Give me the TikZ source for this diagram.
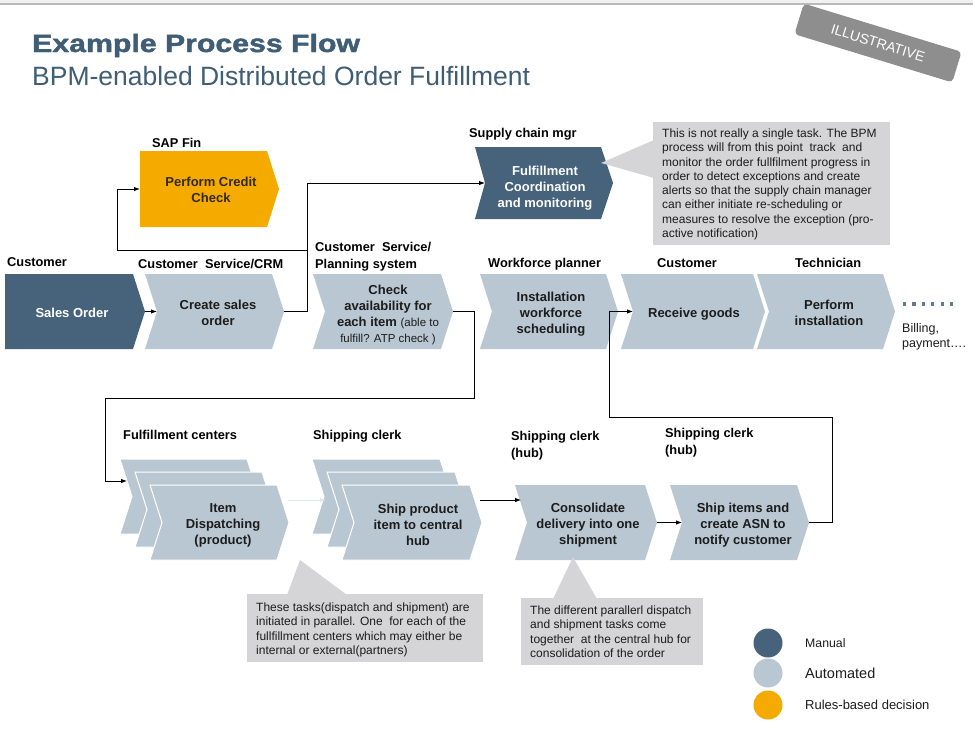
\documentclass[tikz,border=0pt]{standalone}
\usepackage{fontspec}
\usepackage{graphicx}
\setmainfont{Liberation Sans}
\newfontfamily\titlefont{Liberation Sans}[FakeBold=1.5]
\usetikzlibrary{arrows.meta}
\definecolor{dk}{HTML}{46637B}
\definecolor{lt}{HTML}{B9C7D2}
\definecolor{org}{HTML}{F5AA00}
\definecolor{callg}{HTML}{D5D4D7}
\definecolor{ttl}{HTML}{3F5D74}
\definecolor{badgeg}{HTML}{8E8E8E}
\definecolor{txt}{HTML}{1C1C1C}
\definecolor{faintc}{HTML}{E2E7EB}
\definecolor{pcctxt}{HTML}{33290F}
\newcommand{\chev}[6]{\path[#1] (#2,#3) -- (#4,#3) -- ({#4+12},{(#3+#5)/2}) -- (#4,#5) -- (#2,#5) -- ({#2+#6},{(#3+#5)/2}) -- cycle;}
\begin{document}
\begin{tikzpicture}[x=1pt,y=-1pt,
  conn/.style={draw=black, line width=0.9pt},
  arr/.style={-{Latex[length=6pt,width=4.5pt]}},
  faint/.style={draw=faintc, line width=0.9pt},
  lab/.style={font=\fontsize{12.8}{17}\selectfont\bfseries, inner sep=0, align=left, text=black},
  ct/.style={font=\fontsize{13}{16}\selectfont\bfseries, align=center, inner sep=0, text=txt},
  wt/.style={ct, text=white},
  note/.style={font=\fontsize{12}{14.3}\selectfont, align=left, inner sep=0, anchor=north west, text=txt},
  legt/.style={inner sep=0, anchor=west, text=txt},
  legc/.style={circle, inner sep=0, minimum size=29pt}
]
\useasboundingbox (0,0) rectangle (973,737);
\fill[white] (0,0) rectangle (973,737);
\fill[gray!12] (0,0) rectangle (973,4);
\draw[gray!55, line width=1.2pt] (0,4) -- (973,4);

% titles
\node[anchor=base west, inner sep=0, text=ttl] (title) at (32,52) {\titlefont\bfseries\fontsize{25}{30}\selectfont\scalebox{1.21}[1]{Example Process Flow}};
\node[anchor=base west, inner sep=0, text=ttl] (subtitle) at (32,85) {\fontsize{26.5}{30}\selectfont BPM-enabled Distributed Order Fulfillment};

% badge
\node[rotate=-17, fill=badgeg, rounded corners=4pt, minimum width=165pt, minimum height=32pt, text=white, font=\fontsize{14}{16}\selectfont] (badge) at (878,43) {ILLUSTRATIVE};

% chevrons top row
\chev{fill=dk}{5}{274}{133}{349}{0}
\chev{fill=lt}{145}{274}{272}{349}{12}
\chev{fill=lt}{313}{274}{441}{349}{12}
\chev{fill=lt}{480}{274}{606}{349}{12}
\chev{fill=lt}{621}{274}{753}{349}{12}
\chev{fill=lt}{757}{274}{883}{349}{12}
% upper
\chev{fill=org}{140}{151}{267}{227}{0}
\chev{fill=dk}{475}{147}{601}{219}{10}
% bottom row stacks
\chev{fill=lt,draw=white,line width=1pt}{120}{459}{247}{534}{12}
\chev{fill=lt,draw=white,line width=1pt}{135}{472}{262}{547}{12}
\chev{fill=lt,draw=white,line width=1pt}{150}{485}{277}{560}{12}
\chev{fill=lt,draw=white,line width=1pt}{312}{459}{440}{534}{12}
\chev{fill=lt,draw=white,line width=1pt}{327}{472}{455}{547}{12}
\chev{fill=lt,draw=white,line width=1pt}{342}{485}{470}{560}{12}
\chev{fill=lt}{515}{485}{645}{560}{12}
\chev{fill=lt}{670}{485}{797}{560}{12}

% connector end points
\coordinate (so-tip) at (145,311.5);
\coordinate (cso-in) at (157,311.5);
\coordinate (cso-tip) at (284,311.5);
\coordinate (jA) at (307,250);
\coordinate (jB) at (117,250);
\coordinate (pcc-in) at (140,189);
\coordinate (fcm-in) at (485,183);
\coordinate (chk-tip) at (453,311.5);
\coordinate (jD) at (474,398);
\coordinate (jE) at (105,398);
\coordinate (ids-in) at (127,481);
\coordinate (ids-tip) at (288,500);
\coordinate (spi-in) at (326,500);
\coordinate (spi-out) at (480,500);
\coordinate (con-in) at (521,500);
\coordinate (con-tip) at (657,522.5);
\coordinate (sia-in) at (682,522.5);
\coordinate (sia-tip) at (809,522.5);
\coordinate (jH) at (832,417);
\coordinate (jI) at (609,417);
\coordinate (rg-in) at (633,311.5);

% connectors
\draw[conn,arr] (so-tip) -- (cso-in);
\draw[conn] (cso-tip) -| (jA);
\draw[conn,arr] (jA) |- (fcm-in);
\draw[conn,arr] (jA) -- (jB) |- (pcc-in);
\draw[conn,arr] (chk-tip) -| (jD) -- (jE) |- (ids-in);
\draw[faint,arr] (ids-tip) -- (spi-in);
\draw[conn,arr] (spi-out) -- (con-in);
\draw[conn,arr] (con-tip) -- (sia-in);
\draw[conn,arr] (sia-tip) -| (jH) -- (jI) |- (rg-in);

% chevron texts
\node[wt] (so) at (72,312.5) {Sales Order};
\node[ct] (cso) at (218,313) {Create sales\\order};
\node[ct] (chk) at (388,314.5) {Check\\availability for\\each item {\mdseries\fontsize{11.5}{16}\selectfont (able to}\\{\mdseries\fontsize{11.5}{16}\selectfont fulfill? ATP check )}};
\node[ct] (inst) at (551,314) {Installation\\workforce\\scheduling};
\node[ct] (rg) at (694,314) {Receive goods};
\node[ct] (pi) at (829,313) {Perform\\installation};
\node[ct, text=pcctxt] (pcc) at (211,190) {Perform Credit\\Check};
\node[wt] (fcm) at (545,188) {Fulfillment\\Coordination\\and monitoring};
\node[ct] (ids) at (223,525) {Item\\Dispatching\\(product)};
\node[ct] (spi) at (418,525) {Ship product\\item to central\\hub};
\node[ct] (con) at (588,525) {Consolidate\\delivery into one\\shipment};
\node[ct] (sia) at (743,525) {Ship items and\\create ASN to\\notify customer};

% role labels
\node[lab, anchor=base west] (l-cust1) at (7,266) {Customer};
\node[lab, anchor=base west] (l-csc) at (138,268.5) {Customer\ \ Service/CRM};
\node[lab, anchor=north west] (l-csp) at (315,242.4) {Customer\ \ Service/\\Planning system};
\node[lab, anchor=base west] (l-wfp) at (488,267.5) {Workforce planner};
\node[lab, anchor=base west] (l-cust2) at (657,267.5) {Customer};
\node[lab, anchor=base west] (l-tech) at (795,267.5) {Technician};
\node[lab, anchor=base west] (l-sap) at (152,147) {SAP Fin};
\node[lab, anchor=base west] (l-scm) at (469,137.5) {Supply chain mgr};
\node[lab, anchor=base west] (l-fc) at (123,439.5) {Fulfillment centers};
\node[lab, anchor=base west] (l-sc1) at (313,439.5) {Shipping clerk};
\node[lab, anchor=north west] (l-sc2) at (511,431.4) {Shipping clerk\\(hub)};
\node[lab, anchor=north west] (l-sc3) at (665,428.4) {Shipping clerk\\(hub)};

% continuation
\draw[dk!85, line width=3.2pt, dash pattern=on 3.2pt off 6.2pt] (903,304) -- (955,304);
\node[anchor=north west, inner sep=0, align=left, text=txt, font=\fontsize{12.5}{14.5}\selectfont] (bill) at (902,323.5) {Billing,\\payment….};

% callouts
\fill[callg] (653,122) rectangle (890,245);
\fill[callg] (654,140) -- (601,163) -- (654,178) -- cycle;
\node[note] (n1) at (662,128.5) {This is not really a single task. The BPM\\process will from this point\ \ track\ \ and\\monitor the order fullfilment progress in\\order to detect exceptions and create\\alerts so that the supply chain manager\\can either initiate re-scheduling or\\measures to resolve the exception (pro-\\active notification)};

\fill[callg] (247,594) rectangle (483,662);
\fill[callg] (287,595) -- (300,560) -- (347,595) -- cycle;
\node[note] (n2) at (256,602.5) {These tasks(dispatch and shipment) are\\initiated in parallel. One\ \ for each of the\\fullfillment centers which may either be\\internal or external(partners)};

\fill[callg] (521,598) rectangle (703,665);
\fill[callg] (553,599) -- (573,557) -- (597,599) -- cycle;
\node[note] (n3) at (530,605.5) {The different parallerl dispatch\\and shipment tasks come\\together\ \ at the central hub for\\consolidation of the order};

% legend
\node[legc, fill=dk] (lg1) at (768,643) {};
\node[legc, fill=lt] (lg2) at (768,673) {};
\node[legc, fill=org] (lg3) at (768,705) {};
\node[legt, font=\fontsize{12.3}{14}\selectfont] (lg1t) at (805,643) {Manual};
\node[legt, font=\fontsize{14.5}{16}\selectfont] (lg2t) at (805,673) {Automated};
\node[legt, font=\fontsize{13}{15}\selectfont] (lg3t) at (805,705) {Rules-based decision};
\end{tikzpicture}
\end{document}
